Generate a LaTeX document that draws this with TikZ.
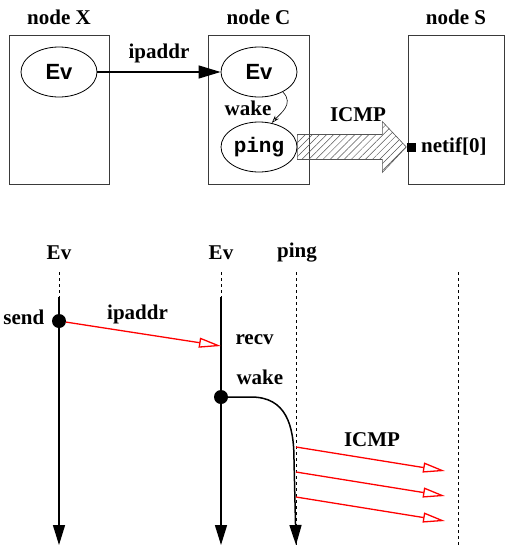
\documentclass[tikz,border=0pt]{standalone}
\usepackage{fontspec}
\setmainfont{Liberation Serif}
\setsansfont{Liberation Sans}
\setmonofont{Liberation Mono}
\usetikzlibrary{arrows.meta,positioning,calc,shapes.geometric,patterns.meta}
\definecolor{MsgRed}{HTML}{FF0000}
\definecolor{BoxLine}{HTML}{3A3A3A}
\definecolor{HatchLine}{HTML}{555555}
\tikzset{
  every picture/.append style={font=\fontsize{21}{25}\selectfont\bfseries},
  hostbox/.style={rectangle, draw=BoxLine, line width=0.9pt, minimum width=100pt,
                  minimum height=149pt, inner sep=0pt},
  proc/.style={ellipse, draw, line width=0.8pt, minimum width=76pt, minimum height=50pt,
               inner sep=0pt, font=\fontsize{22}{26}\selectfont\sffamily\bfseries},
  port/.style={rectangle, fill=black, minimum size=9pt, inner sep=0pt},
  evdot/.style={circle, fill=black, minimum size=14pt, inner sep=0pt},
  callar/.style={-{Triangle[length=22pt,width=13pt]}, line width=1.2pt},
  wakear/.style={-{Stealth[open,length=8pt,width=5pt]}, line width=0.6pt},
  hatchar/.style={draw=HatchLine, line width=0.6pt,
                  pattern={Lines[angle=45,distance=5pt,line width=0.5pt]},
                  pattern color=HatchLine},
  lifedash/.style={dashed, dash pattern=on 3pt off 3pt, line width=0.8pt},
  lifeline/.style={-{Triangle[length=20pt,width=12pt]}, line width=1.5pt},
  msg/.style={-{Triangle[open,length=22pt,width=10pt]}, line width=1.3pt, draw=MsgRed},
}
\begin{document}
\begin{tikzpicture}[x=1pt, y=-1pt]
\useasboundingbox (0,0) rectangle (505,546);

% ======================= top: three hosts ===========================================
\node[hostbox] (boxX) at (59,109.5) {};
\node[hostbox, minimum width=101pt] (boxC) at (258.5,109.5) {};
\node[hostbox, minimum width=96pt] (boxS) at (456,109.5) {};
\node[above=6pt of boxX] (tX) {node X};
\node[above=6pt of boxC] (tC) {node C};
\node[above=6pt of boxS] (tS) {node S};

% processes inside the hosts
\node[proc] (evX) at (59,72) {Ev};
\node[proc] (evC) at (259,72) {Ev};
\node[proc, font=\fontsize{21}{25}\selectfont\ttfamily\bfseries] (ping) at (259,147) {ping};
\node[port] (netif) at (411,147) {};
\node[right=2pt of netif] (lnetif) {netif[0]};

% ======================= top: arrows ================================================
\draw[callar] (evX) -- (evC) node[midway, above=5pt] (lip) {ipaddr};
\draw[wakear] (evC.-40) .. controls +(12,12) and +(8,-9) .. (ping.62);
\node (lwk) at (248,108) {wake};
% hatched packet arrow out of ping
\draw[hatchar] ($(ping.east)+(0,-12.5)$) -- ($(netif.west)+(-24,-12.5)$)
  -- ($(netif.west)+(-24,-25.5)$) -- (netif.west)
  -- ($(netif.west)+(-24,25.5)$) -- ($(netif.west)+(-24,12.5)$)
  -- ($(ping.east)+(0,12.5)$) -- cycle;
\node (licmpT) at (358,115) {ICMP};

% ======================= bottom: time lines =========================================
\foreach \n/\x in {A/59,B/221,C/296,D/458}{
  \coordinate (top\n) at (\x,272);
  \coordinate (act\n) at (\x,297);
  \coordinate (bot\n) at (\x,545);
}
\node (hA) at (59,253) {Ev};
\node (hB) at (221,253) {Ev};
\node (hC) at (297,253) {ping};

\draw[lifedash] (topA) -- (actA);
\draw[lifedash] (topB) -- (actB);
\draw[lifedash] (topC) -- (botC);
\draw[lifedash] (topD) -- (botD);
\draw[lifeline] (actA) -- (botA);
\draw[lifeline] (actB) -- (botB);

% events
\node[evdot] (send) at (59,321) {};
\node[evdot] (wk) at (221,397) {};
\node[left=4pt of send, yshift=4pt] (lsend) {send};
\coordinate (rcv) at (221,346);
\node[anchor=west] (lrecv) at ($(rcv)+(11,-6)$) {recv};
\node[anchor=west] (lwake) at ($(wk)+(12,-20)$) {wake};

% ======================= bottom: messages ===========================================
\draw[msg] (send) -- (rcv) node[midway, above=6pt, xshift=-6pt] (lipB) {ipaddr};
\coordinate (wkend) at (294,460);
\draw[lifeline] (wk.center) -- ++(30,0) .. controls +(35,0) and +(0,-35) .. (wkend) -- (botC);
\foreach \i in {0,1,2}{
  \coordinate (ps\i) at ($(topC)+(0,175+25*\i)$);
  \coordinate (pe\i) at ($(topD)+(-13,199+25*\i)$);
  \draw[msg] (ps\i) -- (pe\i);
}
\node (licmpB) at (372,440) {ICMP};

\end{tikzpicture}
\end{document}
